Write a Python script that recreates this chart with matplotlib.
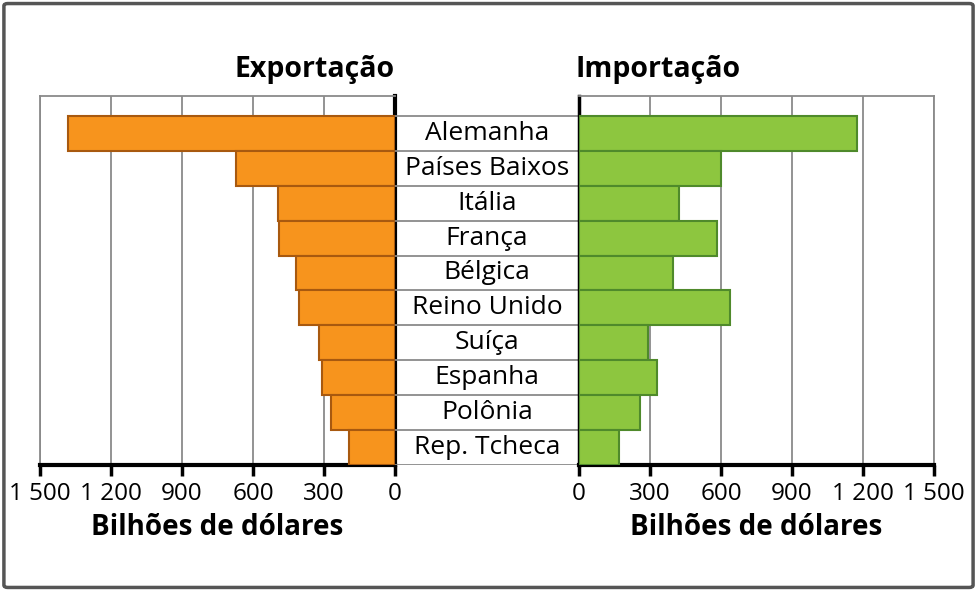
import matplotlib.pyplot as plt
from matplotlib.patches import FancyBboxPatch

paises = ['Alemanha', 'Países Baixos', 'Itália', 'França', 'Bélgica',
          'Reino Unido', 'Suíça', 'Espanha', 'Polônia', 'Rep. Tcheca']
exportacao = [1380, 673, 496, 490, 418, 404, 320, 307, 272, 193]
importacao = [1173, 600, 424, 582, 396, 638, 292, 328, 258, 170]
ticks = [0, 300, 600, 900, 1200, 1500]
tick_labels = ['0', '300', '600', '900', '1 200', '1 500']

plt.rcParams['font.family'] = ['Open Sans', 'DejaVu Sans']

fig = plt.figure(figsize=(9.77, 5.91), dpi=100)

# moldura externa
frame = FancyBboxPatch((0.004, 0.006), 0.992, 0.988, boxstyle='round,pad=0,rounding_size=0.004',
                       transform=fig.transFigure, fill=False, edgecolor='#555555', linewidth=2.5)
fig.patches.append(frame)

y = list(range(len(paises)))
ylim = (9.5, -1.07)
ax_l = fig.add_axes([0.0409, 0.2132, 0.3634, 0.6244])
ax_m = fig.add_axes([0.4043, 0.2132, 0.1883, 0.6244])
ax_r = fig.add_axes([0.5926, 0.2132, 0.3634, 0.6244])

ax_l.barh(y, exportacao, height=1.0, color='#F7941D', edgecolor='#A8590F', linewidth=1.5, zorder=3)
ax_r.barh(y, importacao, height=1.0, color='#8DC63F', edgecolor='#4F8A2B', linewidth=1.5, zorder=3)

for ax in (ax_l, ax_r):
    ax.set_ylim(*ylim)
    ax.set_yticks([])
    ax.set_xticks(ticks)
    ax.set_xticklabels(tick_labels, fontsize=17.5)
    ax.grid(axis='x', color='#8a8a8a', linewidth=1.3, zorder=0)
    ax.tick_params(axis='x', direction='out', length=8, width=2.5, color='black', pad=4)
    ax.spines['bottom'].set_linewidth(3)
    ax.spines['top'].set_color('#8a8a8a')
    ax.spines['top'].set_linewidth(1.3)
    ax.set_xlabel('Bilhões de dólares', fontsize=20, fontweight='bold', labelpad=5)

ax_l.set_xlim(1500, 0)
ax_l.spines['left'].set_color('#8a8a8a')
ax_l.spines['left'].set_linewidth(1.3)
ax_l.spines['right'].set_linewidth(3)

ax_r.set_xlim(0, 1500)
ax_r.spines['right'].set_color('#8a8a8a')
ax_r.spines['right'].set_linewidth(1.3)
ax_r.spines['left'].set_linewidth(2.5)

# coluna central com os nomes dos países
ax_m.set_xlim(0, 1)
ax_m.set_ylim(*ylim)
ax_m.axis('off')
for b in [i - 0.5 for i in range(len(paises) + 1)]:
    ax_m.axhline(b, color='#8a8a8a', linewidth=1.3)
for i, p in enumerate(paises):
    ax_m.text(0.5, i, p, ha='center', va='center', fontsize=19)

fig.text(0.4043, 0.882, 'Exportação', ha='right', va='center', fontsize=20.5, fontweight='bold')
fig.text(0.5895, 0.882, 'Importação', ha='left', va='center', fontsize=20.5, fontweight='bold')

fig.savefig('out.png', dpi=100)
